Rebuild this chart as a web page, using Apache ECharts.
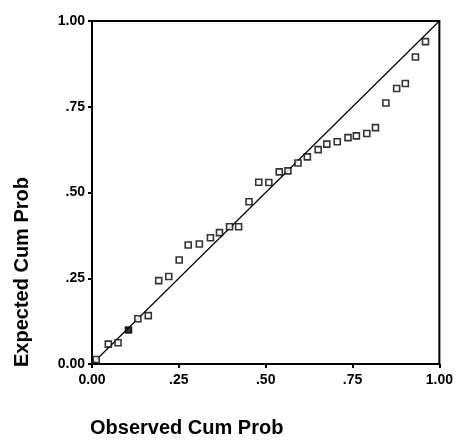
<!DOCTYPE html>
<html>
<head>
<meta charset="utf-8">
<script src="https://cdn.jsdelivr.net/npm/echarts@6/dist/echarts.min.js"></script>
<style>html,body{margin:0;padding:0;background:#fff;}#c{width:456px;height:443px;}</style>
</head>
<body>
<div id="c"></div>
<script>
// Observed vs expected cumulative probabilities (P-P plot)
const observed = [0.012,0.047,0.075,0.105,0.132,0.162,0.192,0.221,0.251,0.277,0.309,0.341,0.367,0.396,0.422,0.452,0.480,0.509,0.539,0.564,0.593,0.620,0.651,0.676,0.706,0.737,0.761,0.791,0.816,0.846,0.877,0.902,0.931,0.960];
const expected = [0.013,0.058,0.062,0.099,0.132,0.141,0.243,0.255,0.303,0.347,0.350,0.368,0.383,0.400,0.400,0.473,0.530,0.529,0.560,0.563,0.586,0.604,0.625,0.641,0.648,0.660,0.665,0.672,0.689,0.761,0.803,0.818,0.895,0.940];
const filledIndex = [3];
const refLine = [[0,0],[1,1]];
const tickValues = [0, 0.25, 0.5, 0.75, 1];
const tickLabels = ['0.00', '.25', '.50', '.75', '1.00'];
const xTitle = 'Observed Cum Prob';
const yTitle = 'Expected Cum Prob';

const pts = observed.map((x, i) => [x, expected[i]]);
const hollow = pts.filter((p, i) => filledIndex.indexOf(i) < 0);
const filled = pts.filter((p, i) => filledIndex.indexOf(i) >= 0);

function fmt(v) {
  const i = tickValues.findIndex(t => Math.abs(t - v) < 1e-9);
  return i >= 0 ? tickLabels[i] : '';
}

const font = 'Liberation Sans, Arial, sans-serif';
const axisCommon = {
  type: 'value', min: 0, max: 1, interval: 0.25,
  axisLine: { show: true, lineStyle: { color: '#000', width: 2 } },
  axisTick: { show: true, inside: false, length: 4, lineStyle: { color: '#000', width: 2 } },
  splitLine: { show: false },
  axisLabel: { formatter: fmt, color: '#000', fontFamily: font, fontWeight: 'bold', fontSize: 14 }
};

const chart = echarts.init(document.getElementById('c'), null, { renderer: 'canvas' });
chart.setOption({
  backgroundColor: '#fff',
  animation: false,
  grid: { left: 92, top: 21, right: 16, bottom: 79, show: true, borderColor: '#000', borderWidth: 2 },
  xAxis: Object.assign({}, axisCommon, { axisLabel: Object.assign({}, axisCommon.axisLabel, { margin: 9 }) }),
  yAxis: Object.assign({}, axisCommon, { axisLabel: Object.assign({}, axisCommon.axisLabel, { margin: 7 }) }),
  graphic: [
    { type: 'text', x: 90, y: 428, style: { text: xTitle, fill: '#000', font: 'bold 20px ' + font, verticalAlign: 'middle' } },
    { type: 'text', x: 22, y: 272, rotation: Math.PI / 2, style: { text: yTitle, fill: '#000', font: 'bold 20px ' + font, align: 'center', verticalAlign: 'middle' } }
  ],
  series: [
    { type: 'line', data: refLine, symbol: 'none', lineStyle: { color: '#000', width: 1.2 }, z: 2 },
    { type: 'scatter', data: hollow, symbol: 'rect', symbolSize: 6,
      itemStyle: { color: '#fff', borderColor: '#000', borderWidth: 1.6 }, z: 3 },
    { type: 'scatter', data: filled, symbol: 'rect', symbolSize: 6,
      itemStyle: { color: '#000', borderColor: '#000', borderWidth: 1.6 }, z: 3 }
  ]
});
</script>
</body>
</html>
